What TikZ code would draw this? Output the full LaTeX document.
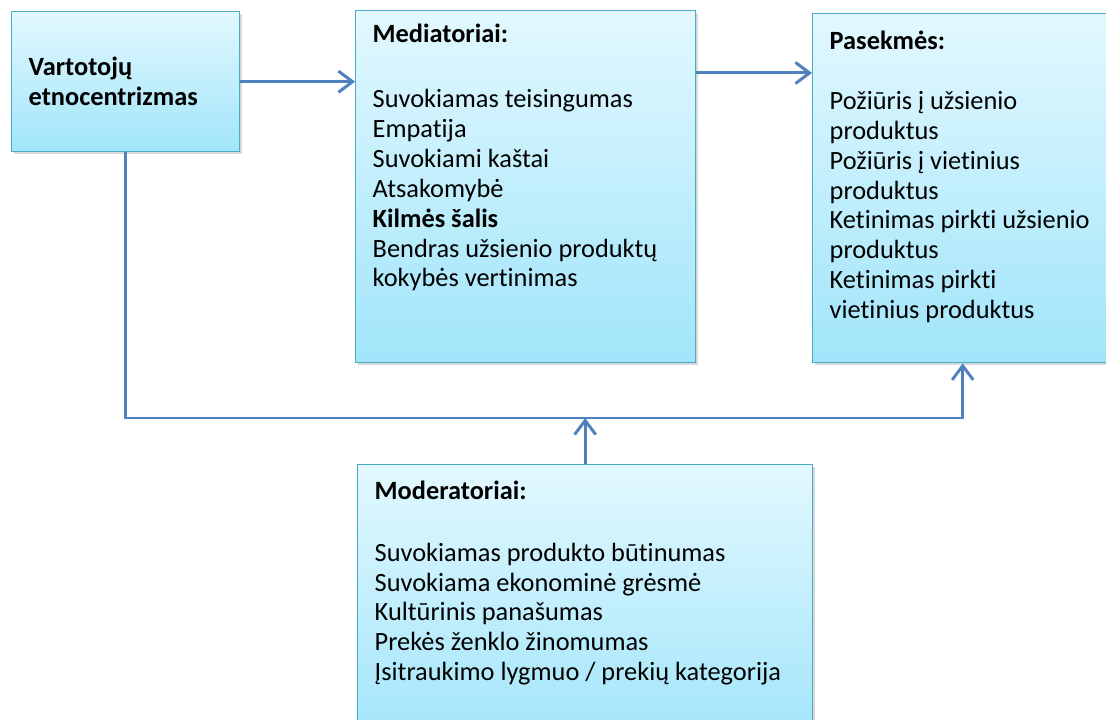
\documentclass[tikz,border=0pt]{standalone}
\usepackage{fontspec}
\setmainfont{Carlito}[Ligatures={NoCommon}]
\usetikzlibrary{arrows.meta,shadows}

\definecolor{remelis}{HTML}{4BACC6}
\definecolor{virsus}{HTML}{E2F8FE}
\definecolor{apacia}{HTML}{A1E5FA}
\definecolor{linija}{HTML}{4F81BD}

\begin{document}
\begin{tikzpicture}[x=0.02cm, y=-0.02cm,
    blokas/.style={rectangle, draw=remelis, line width=0.8pt, top color=virsus, bottom color=apacia,
        drop shadow={shadow xshift=0.05cm, shadow yshift=-0.05cm, opacity=0.3},
        anchor=north west, inner xsep=0.34cm, font=\fontsize{15}{17}\selectfont},
    rodykle/.style={draw=linija, line width=1.7pt, -{Straight Barb[length=8pt,width=12pt]}}]

    \useasboundingbox (0,0) rectangle (1106,720);

    % Vartotoju etnocentrizmas
    \node (vart) [blokas, align=left, text width=3.88cm, minimum height=2.8cm] at (11,11)
        {\textbf{Vartotojų}\\\textbf{etnocentrizmas}};

    % Mediatoriai
    \node (med) [blokas, inner ysep=0.27cm] at (355,10) {\parbox[t][6.5cm][t]{6.12cm}{\raggedright
        \textbf{Mediatoriai:}\\[20pt]
        Suvokiamas teisingumas\\
        Empatija\\
        Suvokiami kaštai\\
        Atsakomybė\\
        \textbf{Kilmės šalis}\\
        Bendras užsienio produktų\\
        kokybės vertinimas}};

    % Pasekmes
    \node (pas) [blokas, inner ysep=0.35cm] at (812,13) {\parbox[t][6.28cm][t]{5.32cm}{\raggedright
        \textbf{Pasekmės:}\\[\baselineskip]
        Požiūris į užsienio\\
        produktus\\
        Požiūris į vietinius\\
        produktus\\
        Ketinimas pirkti užsienio\\
        produktus\\
        Ketinimas pirkti\\
        vietinius produktus}};

    % Moderatoriai
    \node (mod) [blokas, inner ysep=0.33cm] at (357,464) {\parbox[t][4.94cm][t]{8.42cm}{\raggedright
        \textbf{Moderatoriai:}\\[18pt]
        Suvokiamas produkto būtinumas\\
        Suvokiama ekonominė grėsmė\\
        Kultūrinis panašumas\\
        Prekės ženklo žinomumas\\
        Įsitraukimo lygmuo / prekių kategorija}};

    % Rodykles
    \coordinate (juosta) at (0,418);
    \coordinate (medisejimas) at ([yshift=-1.26cm]med.north east);

    \draw[rodykle] (vart.east) -- (vart.east -| med.west);
    \draw[rodykle] (medisejimas) -- (medisejimas -| pas.west);
    \draw[rodykle] (vart.south) |- (juosta -| pas.south) -- (pas.south);
    \draw[rodykle] (mod.north) -- (mod.north |- juosta);

\end{tikzpicture}
\end{document}
